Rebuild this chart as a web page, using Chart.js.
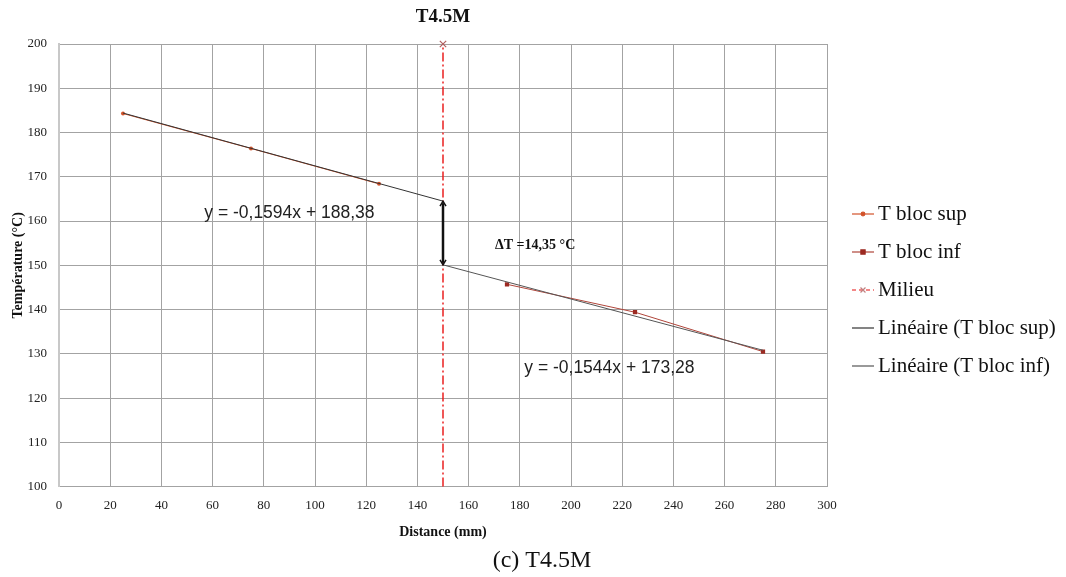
<!DOCTYPE html>
<html>
<head>
<meta charset="utf-8">
<script src="https://cdn.jsdelivr.net/npm/chart.js@4"></script>
<style>
  html, body { margin:0; padding:0; background:#fff; }
  #wrap { width:1066px; height:577px; position:relative; }
</style>
</head>
<body>
<div id="wrap"><canvas id="chart" width="1066" height="577"></canvas></div>
<script>
// ---- data ----
var xSup = [25, 75, 125];
var tSup = [184.3, 176.4, 168.4];
var xInf = [175, 225, 275];
var tInf = [145.7, 139.4, 130.5];
var xMilieu = [150, 150];
var tMilieu = [100, 200];
var xTrendSup = [25, 150];
var tTrendSup = [184.4, 164.5];
var xTrendInf = [150, 275];
var tTrendInf = [150.1, 130.8];
var seriesNames = ["T bloc sup", "T bloc inf", "Milieu", "Linéaire (T bloc sup)", "Linéaire (T bloc inf)"];
var eqSup = "y = -0,1594x + 188,38";
var eqInf = "y = -0,1544x + 173,28";
var deltaLabel = "ΔT =14,35 °C";

function pts(xs, ys){
    var out = [];
    for(var i=0;i<xs.length;i++){ out.push({x:xs[i], y:ys[i]}); }
    return out;
}

//===== dessins en plus (titre, légende, flèche, équations) =====//
var extras = {
    id: 'extras',
    afterDatasetsDraw: function(chart){
        var ctx = chart.ctx, xs = chart.scales.x, ys = chart.scales.y;
        // flèche ΔT entre les deux droites au milieu
        var px = xs.getPixelForValue(xMilieu[0]);
        var y1 = ys.getPixelForValue(tTrendSup[1]);
        var y2 = ys.getPixelForValue(tTrendInf[0]);
        ctx.save();
        ctx.strokeStyle = '#111';
        ctx.lineWidth = 2.5;
        ctx.beginPath(); ctx.moveTo(px, y1 + 2); ctx.lineTo(px, y2 - 2); ctx.stroke();
        ctx.lineWidth = 1.5;
        ctx.beginPath();
        ctx.moveTo(px - 3, y1 + 5); ctx.lineTo(px, y1); ctx.lineTo(px + 3, y1 + 5);
        ctx.moveTo(px - 3, y2 - 5); ctx.lineTo(px, y2); ctx.lineTo(px + 3, y2 - 5);
        ctx.stroke();
        ctx.restore();
    },
    afterDraw: function(chart){
        var ctx = chart.ctx, xs = chart.scales.x, ys = chart.scales.y;
        var area = chart.chartArea;
        ctx.save();
        ctx.fillStyle = '#111';
        ctx.textBaseline = 'middle';
        ctx.textAlign = 'center';
        // titre
        ctx.font = 'bold 19px "Liberation Serif"';
        ctx.fillText('T4.5M', (area.left + area.right) / 2, 17);
        // équations
        ctx.font = '17.5px "Liberation Sans"';
        ctx.fillStyle = '#222';
        ctx.fillText(eqSup, xs.getPixelForValue(90), ys.getPixelForValue(161.8));
        ctx.fillText(eqInf, xs.getPixelForValue(215), ys.getPixelForValue(126.7));
        ctx.font = 'bold 14px "Liberation Serif"';
        ctx.fillStyle = '#111';
        ctx.fillText(deltaLabel, xs.getPixelForValue(186), ys.getPixelForValue(154.5));
        // légende
        var ds = chart.data.datasets;
        ctx.textAlign = 'left';
        for(var i=0;i<seriesNames.length;i++){
            var d = ds[i];
            var ly = 214 + i * 38;
            ctx.save();
            ctx.strokeStyle = d.borderColor;
            ctx.lineWidth = 1.2;
            ctx.setLineDash(d.legendDash || []);
            ctx.beginPath(); ctx.moveTo(852, ly); ctx.lineTo(874, ly); ctx.stroke();
            ctx.setLineDash([]);
            if(d.legendMarker){
                ctx.fillStyle = d.legendFill;
                ctx.strokeStyle = d.legendFill;
                Chart.helpers.drawPoint(ctx, {pointStyle: d.legendMarker, radius: d.legendRadius, borderWidth: 1}, 863, ly);
            }
            ctx.restore();
            ctx.font = '21px "Liberation Serif"';
            ctx.fillStyle = '#111';
            ctx.fillText(seriesNames[i], 878, ly);
        }
        // légende de la figure
        ctx.textAlign = 'center';
        ctx.font = '24px "Liberation Serif"';
        ctx.fillText('(c) T4.5M', 542, 561);
        ctx.restore();
    }
};

var ctx = document.getElementById('chart');
var chart = new Chart(ctx, {
    type: 'scatter',
    data: {
        datasets: [
            { label: seriesNames[0], data: pts(xSup, tSup), showLine: true,
              borderColor: '#d2522a', backgroundColor: '#d2522a', borderWidth: 1,
              pointStyle: 'circle', pointRadius: 2, pointBorderWidth: 0,
              legendMarker: 'circle', legendRadius: 1.8, legendFill: '#d2522a', order: 2 },
            { label: seriesNames[1], data: pts(xInf, tInf), showLine: true,
              borderColor: '#b0453a', backgroundColor: '#9c2a22', borderWidth: 1,
              pointStyle: 'rect', pointRadius: 3, pointBorderWidth: 0,
              legendMarker: 'rect', legendRadius: 3, legendFill: '#9c2a22', order: 2 },
            { label: seriesNames[2], data: pts(xMilieu, tMilieu), showLine: true, clip: false,
              borderColor: '#e81010', backgroundColor: '#c87070', borderWidth: 1.4,
              borderDash: [9, 3, 2, 3], legendDash: [4, 3],
              pointStyle: 'crossRot', pointRadius: [0, 4.5], pointBorderColor: '#b06060', pointBorderWidth: 1.2,
              legendMarker: 'crossRot', legendRadius: 3.5, legendFill: '#c08080', order: 3 },
            { label: seriesNames[3], data: pts(xTrendSup, tTrendSup), showLine: true,
              borderColor: '#333333', borderWidth: 1, pointRadius: 0, order: 1 },
            { label: seriesNames[4], data: pts(xTrendInf, tTrendInf), showLine: true,
              borderColor: '#555555', borderWidth: 1, pointRadius: 0, order: 1 }
        ]
    },
    options: {
        responsive: false,
        animation: false,
        layout: { padding: { top: 44, right: 239, bottom: 36, left: 0 } },
        plugins: {
            legend: { display: false },
            tooltip: { enabled: false },
            title: { display: false }
        },
        scales: {
            x: {
                type: 'linear', min: 0, max: 300,
                ticks: { stepSize: 20, color: '#222', padding: 11,
                         font: { family: 'Liberation Serif', size: 13 } },
                grid: { color: '#a3a3a3', drawTicks: false },
                border: { color: '#a3a3a3' },
                title: { display: true, text: 'Distance (mm)', color: '#111',
                         font: { family: 'Liberation Serif', size: 14, weight: 'bold' },
                         padding: { top: 0, bottom: 0 } }
            },
            y: {
                type: 'linear', min: 100, max: 200,
                afterFit: function(scale){ scale.width = 59; },
                ticks: { stepSize: 10, color: '#222', padding: 12,
                         font: { family: 'Liberation Serif', size: 13 } },
                grid: { color: '#a3a3a3', drawTicks: false },
                border: { color: '#c8c8c8', width: 2 },
                title: { display: true, text: 'Température (°C)', color: '#111',
                         font: { family: 'Liberation Serif', size: 14, weight: 'bold' },
                         padding: { top: 10, bottom: 2 } }
            }
        }
    },
    plugins: [extras]
});
</script>
</body>
</html>
